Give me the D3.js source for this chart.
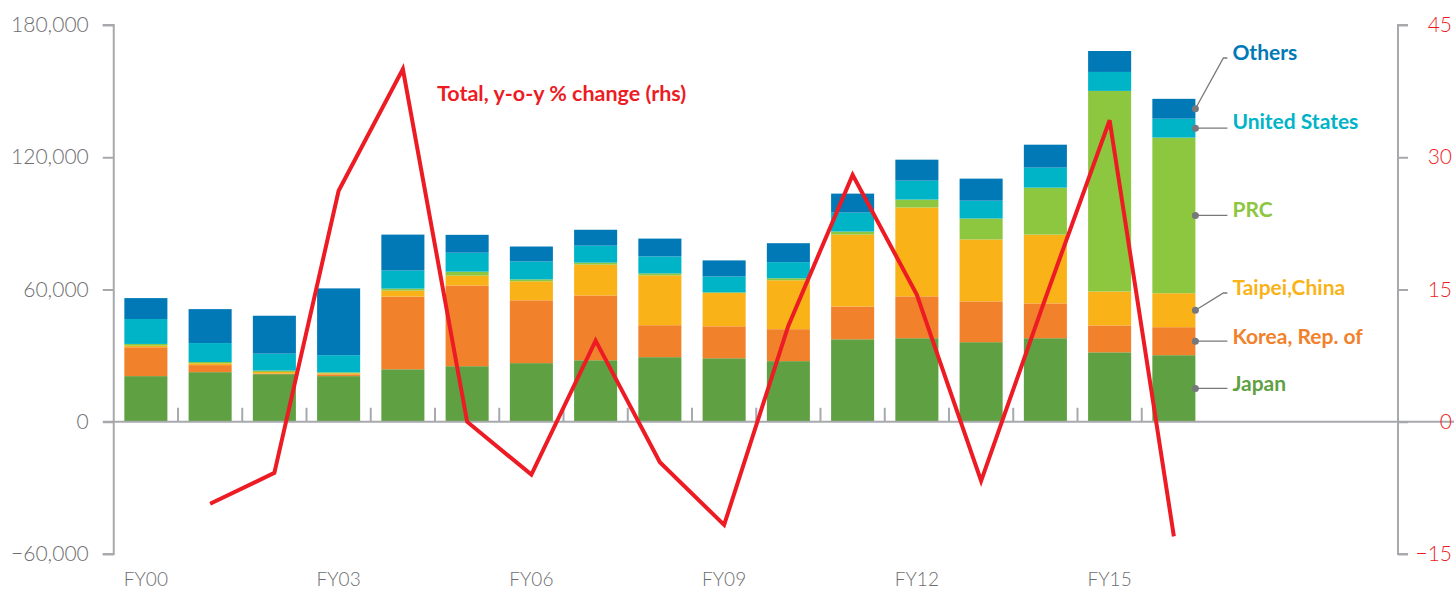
<!DOCTYPE html>
<html><head><meta charset="utf-8">
<script src="https://cdn.jsdelivr.net/npm/d3@7"></script>
<style>
html,body{margin:0;padding:0;background:#fff;}
svg{display:block;font-family:Lato,"Open Sans",sans-serif;}
</style></head>
<body><svg id="chart" width="1454" height="590"></svg>
<script>
const years = ["FY00","FY01","FY02","FY03","FY04","FY05","FY06","FY07","FY08","FY09","FY10","FY11","FY12","FY13","FY14","FY15","FY16"];
const japan  = [20.7,22.5,21.6,20.7,23.8,25.2,26.6,27.9,29.3,28.8,27.5,37.4,37.9,36.1,37.9,31.5,30.2].map(v=>v*1000);
const korea  = [13.1,3.2,0.3,0.8,33.0,36.6,28.5,29.4,14.5,14.5,14.5,14.9,19.0,18.5,15.8,12.2,12.7].map(v=>v*1000);
const taipei = [0.7,0.8,0.7,0.5,2.7,4.5,8.6,14.0,22.6,15.1,22.2,32.6,40.3,28.1,31.2,15.4,15.4].map(v=>v*1000);
const prc    = [0.8,0.6,0.6,0.4,0.9,1.8,0.9,0.9,0.9,0.3,0.9,1.4,3.6,9.5,21.3,91.0,70.6].map(v=>v*1000);
const us     = [11.3,8.6,7.7,7.8,8.2,8.6,8.1,7.7,7.7,7.2,7.3,8.6,8.6,8.1,9.1,8.6,8.6].map(v=>v*1000);
const others = [9.5,15.4,17.2,30.3,16.3,8.1,6.8,7.2,8.1,7.3,8.6,8.6,9.5,10.0,10.4,9.5,9.0].map(v=>v*1000);
const yoyChange = [null,-9.3,-5.8,26.2,40.0,0.0,-6.0,9.2,-4.6,-11.7,10.9,28.0,14.4,-6.7,14.0,34.2,-13.0];
const leftTicks = [-60000,0,60000,120000,180000];
const rightTicks = [-15,0,15,30,45];
const xLabelYears = ["FY00","FY03","FY06","FY09","FY12","FY15"];
const seriesNames = ["Japan","Korea, Rep. of","Taipei,China","PRC","United States","Others"];
const seriesValues = [japan,korea,taipei,prc,us,others];
const seriesColors = ["#5fa043","#f2812c","#f9b318","#8dc63f","#00b4c8","#0079b6"];
const lineLabel = "Total, y-o-y % change (rhs)";

const svg = d3.select("#chart");
const axisGray = "#a7a9ac", textGray = "#6d6e71", red = "#ed1c24";
const x0 = 113.75, stepW = 64.25;
const x = d3.scaleBand().domain(years).range([x0, x0 + stepW*years.length]).paddingInner(0.33).paddingOuter(0.165);
const y = d3.scaleLinear().domain([-60000,180000]).range([554,25]);
const y2 = d3.scaleLinear().domain([-15,45]).range([554,25]);

const table = years.map((yr,i)=>{const o={year:yr}; seriesNames.forEach((s,j)=>o[s]=seriesValues[j][i]); return o;});
const stack = d3.stack().keys(seriesNames)(table);

// bars
stack.forEach((layer,j)=>{
  svg.append("g").selectAll("rect").data(layer).join("rect")
    .attr("x",d=>x(d.data.year)).attr("width",x.bandwidth())
    .attr("y",d=>y(d[1])).attr("height",d=>Math.max(0,y(d[0])-y(d[1])))
    .attr("fill",seriesColors[j]);
});

// zero line
svg.append("line").attr("x1",103).attr("x2",1454).attr("y1",y(0)).attr("y2",y(0))
  .attr("stroke",axisGray).attr("stroke-width",2);
// category boundary ticks
svg.append("g").selectAll("line").data(years.slice(1)).join("line")
  .attr("x1",d=>x(d)-x.step()*x.paddingInner()/2 ).attr("x2",d=>x(d)-x.step()*x.paddingInner()/2)
  .attr("y1",y(0)).attr("y2",y(0)-14).attr("stroke",axisGray).attr("stroke-width",2);

// left axis
const la = svg.append("g").attr("transform",`translate(${x0},0)`)
  .call(d3.axisLeft(y).tickValues(leftTicks).tickSize(11).tickPadding(14).tickFormat(d3.format(",")));
la.select(".domain").attr("stroke",axisGray).attr("stroke-width",2).attr("d",`M-11,${y(-60000)}H0V${y(180000)}H-11`);
la.selectAll(".tick line").attr("stroke",axisGray).attr("stroke-width",2);
la.selectAll(".tick text").attr("fill",textGray).attr("font-size",21).attr("font-weight",300).attr("font-family","Lato,sans-serif");

// right axis
const ra = svg.append("g").attr("transform",`translate(1398,0)`)
  .call(d3.axisRight(y2).tickValues(rightTicks).tickSize(10).tickPadding(16));
ra.select(".domain").attr("stroke",axisGray).attr("stroke-width",2).attr("d",`M10,${y2(-15)}H0V${y2(45)}H10`);
ra.selectAll(".tick line").attr("stroke",axisGray).attr("stroke-width",2);
ra.selectAll(".tick text").attr("fill",red).attr("font-size",21).attr("font-weight",300).attr("font-family","Lato,sans-serif")
  .attr("text-anchor","end").attr("x",54);

// x labels
svg.append("g").selectAll("text").data(xLabelYears).join("text")
  .attr("x",d=>x(d)+x.bandwidth()/2).attr("y",586).attr("text-anchor","middle")
  .attr("fill",textGray).attr("font-size",19).attr("font-weight",300).text(d=>d);

// line
const lineGen = d3.line().defined(d=>d.v!==null).x(d=>x(d.yr)+x.bandwidth()/2).y(d=>y2(d.v));
svg.append("path").datum(years.map((yr,i)=>({yr,v:yoyChange[i]})))
  .attr("d",lineGen).attr("fill","none").attr("stroke",red).attr("stroke-width",4).attr("stroke-linejoin","miter");

svg.append("text").attr("x",437).attr("y",101).attr("fill",red).attr("font-size",21.5).attr("font-weight",700)
  .text(lineLabel);

// legend labels with leaders
const last = table[table.length-1];
const lastStackPos = stack.map(layer=>layer[layer.length-1]);
const xr = x(last.year)+x.bandwidth();
const labelYs = [383,336,287,209,121,52];
const leaderGray = "#77787b";
seriesNames.forEach((s,j)=>{
  const d = lastStackPos[j];
  const dy = (y(d[0])+y(d[1]))/2;
  const ly = labelYs[j] + 6;
  const g = svg.append("g");
  if (Math.abs(ly-dy) > 4) {
    g.append("path").attr("d",`M${xr},${dy}L${xr+28},${ly}H${xr+32}`).attr("fill","none").attr("stroke",leaderGray).attr("stroke-width",1.3);
  } else {
    g.append("line").attr("x1",xr).attr("x2",xr+32).attr("y1",dy).attr("y2",dy).attr("stroke",leaderGray).attr("stroke-width",1.3);
  }
  g.append("circle").attr("cx",xr).attr("cy",dy).attr("r",3.5).attr("fill",leaderGray);
  g.append("text").attr("x",xr+37).attr("y",labelYs[j]+7.5).attr("fill",seriesColors[j])
    .attr("font-size",21).attr("font-weight",700).text(s);
});
</script></body></html>
